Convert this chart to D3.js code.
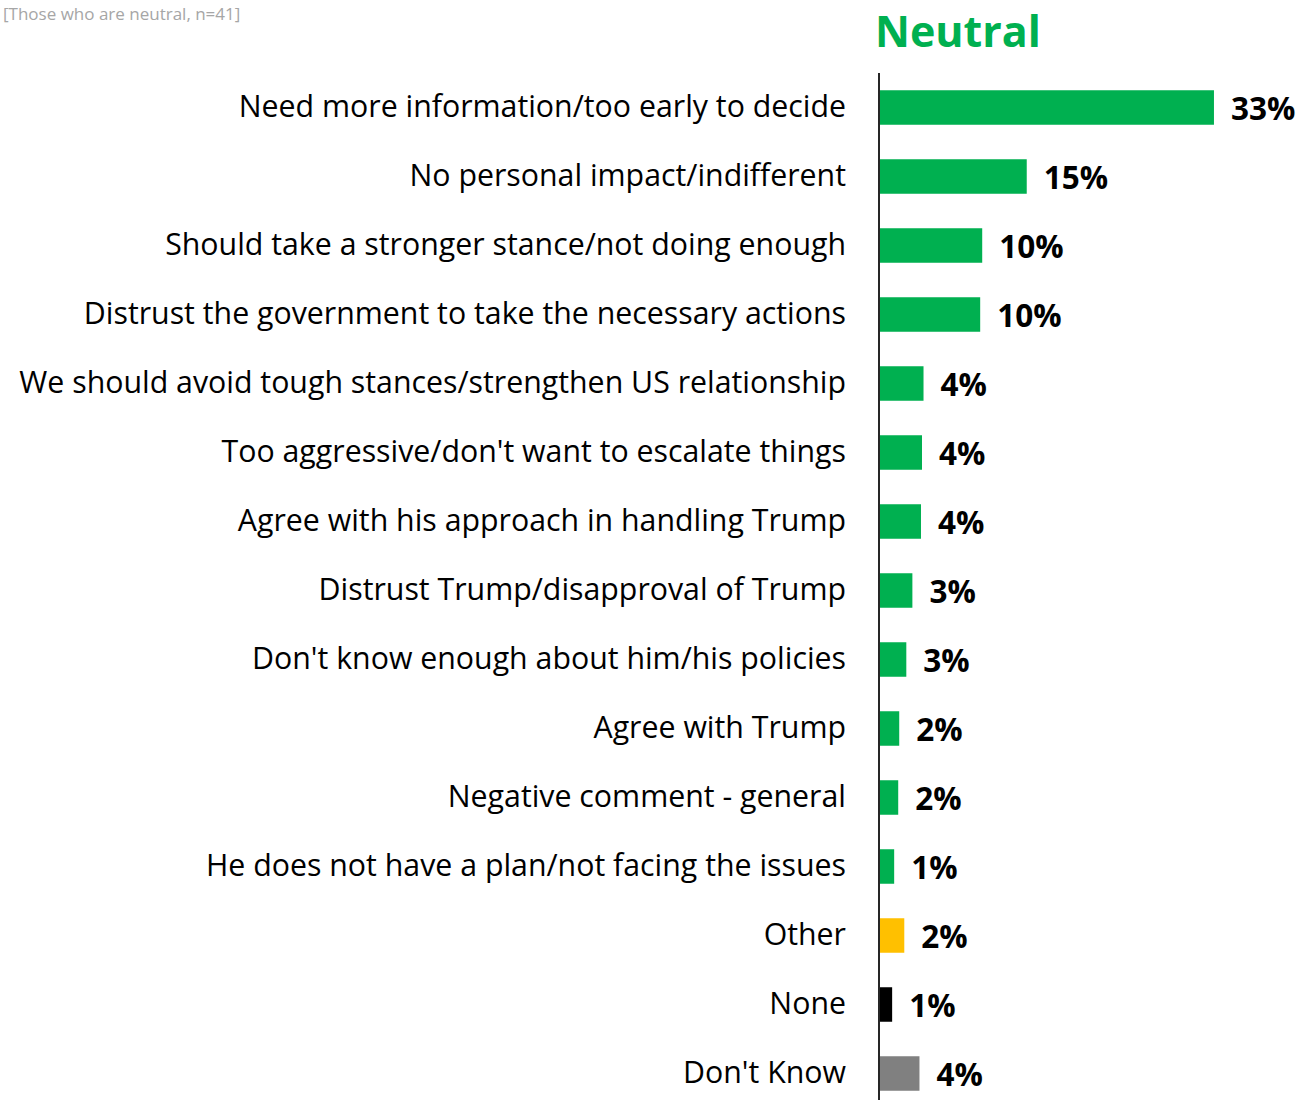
<!DOCTYPE html>
<html><head><meta charset="utf-8">
<script src="https://cdn.jsdelivr.net/npm/d3@7"></script>
<style>body{margin:0;background:#fff;} svg{display:block;}</style>
</head><body>
<svg id="chart" width="1300" height="1100"></svg>
<script>
const categories = [
  "Need more information/too early to decide",
  "No personal impact/indifferent",
  "Should take a stronger stance/not doing enough",
  "Distrust the government to take the necessary actions",
  "We should avoid tough stances/strengthen US relationship",
  "Too aggressive/don't want to escalate things",
  "Agree with his approach in handling Trump",
  "Distrust Trump/disapproval of Trump",
  "Don't know enough about him/his policies",
  "Agree with Trump",
  "Negative comment - general",
  "He does not have a plan/not facing the issues",
  "Other",
  "None",
  "Don't Know"
];
const values = [33.0, 14.5, 10.1, 9.9, 4.3, 4.15, 4.05, 3.2, 2.6, 1.9, 1.8, 1.4, 2.4, 1.2, 3.9];
const valueLabels = ["33%","15%","10%","10%","4%","4%","4%","3%","3%","2%","2%","1%","2%","1%","4%"];
const groups = ["main","main","main","main","main","main","main","main","main","main","main","main","other","none","dk"];
const groupColors = {main:"#00B050", other:"#FFC000", none:"#000000", dk:"#808080"};
const title = "Neutral";
const note = "[Those who are neutral, n=41]";

const svg = d3.select("#chart");
const font = "'Open Sans', sans-serif";

const y = d3.scaleBand().domain(categories).range([73, 1108]).paddingInner(0.5).paddingOuter(0.25);
const x = d3.scaleLinear().domain([0, 40]).range([880, 880 + 404.8]);

svg.append("text").attr("x", 3).attr("y", 20).attr("text-anchor", "start")
  .attr("font-family", font).attr("font-size", 17).attr("fill", "#A6A6A6").text(note);

svg.append("text").attr("x", 875).attr("y", 47).attr("font-family", font)
  .attr("font-weight", "bold").attr("font-size", 43).attr("fill", "#00B050").text(title);

const data = categories.map((c, i) => ({c, v: values[i], l: valueLabels[i], g: groups[i]}));

svg.selectAll("rect.bar").data(data).join("rect").attr("class", "bar")
  .attr("x", x(0)).attr("y", d => y(d.c)).attr("width", d => x(d.v) - x(0))
  .attr("height", y.bandwidth()).attr("fill", d => groupColors[d.g]);

svg.selectAll("text.cat").data(data).join("text").attr("class", "cat")
  .attr("x", 846).attr("y", d => y(d.c) + y.bandwidth() / 2 - 1).attr("dy", "0.35em")
  .attr("text-anchor", "end").attr("font-family", font).attr("font-size", 30.3)
  .attr("fill", "#000").text(d => d.c);

svg.selectAll("text.val").data(data).join("text").attr("class", "val")
  .attr("x", d => x(d.v) + 17).attr("y", d => y(d.c) + y.bandwidth() / 2 + 1).attr("dy", "0.35em")
  .attr("font-family", font).attr("font-weight", "bold").attr("font-size", 31.5)
  .attr("fill", "#000").text(d => d.l);

svg.append("line").attr("x1", 879).attr("x2", 879).attr("y1", 73).attr("y2", 1100)
  .attr("stroke", "#262626").attr("stroke-width", 2);
</script>
</body></html>
